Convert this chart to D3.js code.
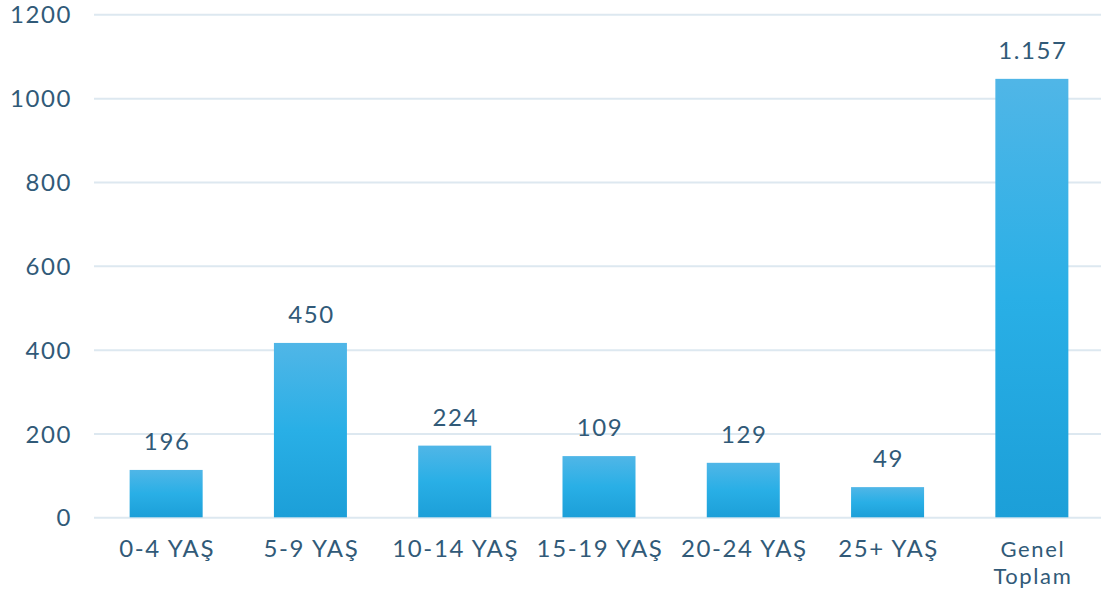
<!DOCTYPE html>
<html>
<head>
<meta charset="utf-8">
<script src="https://cdn.jsdelivr.net/npm/d3@7"></script>
<style>
  body { margin: 0; background: #ffffff; }
  svg text { font-family: Lato, "Noto Sans", sans-serif; fill: #315a78; letter-spacing: 1.6px; }
</style>
</head>
<body>
<div id="chart"></div>
<script>
// data
const categories = ['0-4 YAŞ', '5-9 YAŞ', '10-14 YAŞ', '15-19 YAŞ', '20-24 YAŞ', '25+ YAŞ', 'Genel Toplam'];
const barValues = [113, 416, 171, 146, 130, 72, 1046];
const valueLabels = ['196', '450', '224', '109', '129', '49', '1.157'];
const yTicks = [0, 200, 400, 600, 800, 1000, 1200];

const w = 1101;
const h = 599;
const plotLeft = 94, plotRight = 1104, plotTop = 14.3, plotBottom = 517.3;

const svg = d3.select('#chart')
              .append('svg')
              .attr('width', w)
              .attr('height', h);

// gradient for bars
const grad = svg.append('defs')
                .append('linearGradient')
                .attr('id', 'barGrad')
                .attr('x1', 0).attr('y1', 0)
                .attr('x2', 0).attr('y2', 1);
grad.append('stop').attr('offset', '0%').attr('stop-color', '#50b6e7');
grad.append('stop').attr('offset', '50%').attr('stop-color', '#29afe6');
grad.append('stop').attr('offset', '100%').attr('stop-color', '#1c9fd8');

const xScale = d3.scaleBand()
                 .domain(categories)
                 .range([plotLeft, plotRight])
                 .paddingInner(0.494)
                 .paddingOuter(0.247);

const yScale = d3.scaleLinear()
                 .domain([0, 1200])
                 .range([plotBottom, plotTop]);

// gridlines + y labels
const yAxis = d3.axisLeft(yScale)
                .tickValues(yTicks)
                .tickSize(-(w - plotLeft))
                .tickPadding(22)
                .tickFormat(d3.format('d'));

const gy = svg.append('g')
              .attr('transform', 'translate(' + plotLeft + ',0)')
              .call(yAxis);
gy.select('.domain').remove();
gy.selectAll('.tick line')
  .attr('stroke', '#dde8f0')
  .attr('stroke-width', 2);
gy.selectAll('.tick text')
  .attr('font-size', 24)
  .attr('dy', '0.36em');

// bars
svg.selectAll('rect.bar')
   .data(barValues)
   .enter()
   .append('rect')
   .attr('class', 'bar')
   .attr('x', (d, i) => xScale(categories[i]))
   .attr('y', d => yScale(d))
   .attr('width', xScale.bandwidth())
   .attr('height', d => yScale(0) - yScale(d))
   .attr('fill', 'url(#barGrad)');

// value labels
svg.selectAll('text.val')
   .data(barValues)
   .enter()
   .append('text')
   .attr('class', 'val')
   .attr('x', (d, i) => xScale(categories[i]) + xScale.bandwidth() / 2 + 1)
   .attr('y', d => yScale(d) - 20)
   .attr('text-anchor', 'middle')
   .attr('font-size', 24)
   .text((d, i) => valueLabels[i]);

// x axis labels
const xAxis = d3.axisBottom(xScale).tickSize(0).tickPadding(0);
const gx = svg.append('g')
              .attr('transform', 'translate(0,' + plotBottom + ')')
              .call(xAxis);
gx.select('.domain').remove();
gx.selectAll('.tick text').each(function (d) {
  const t = d3.select(this);
  const words = d === 'Genel Toplam' ? ['Genel', 'Toplam'] : [d];
  t.text(null)
   .attr('font-size', words.length > 1 ? 22 : 24)
   .attr('y', 0)
   .attr('dy', null);
  words.forEach((wd, k) => {
    t.append('tspan')
     .attr('x', 1)
     .attr('y', 40 + k * 27)
     .text(wd);
  });
});
</script>
</body>
</html>
